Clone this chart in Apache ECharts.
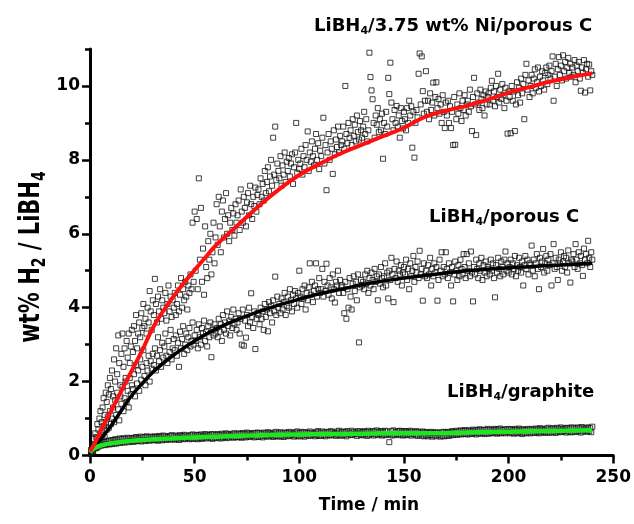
<!DOCTYPE html>
<html><head><meta charset="utf-8">
<script src="https://cdn.jsdelivr.net/npm/echarts@6/dist/echarts.min.js"></script>
<style>html,body{margin:0;padding:0;background:#fff}#c{width:634px;height:524px}</style>
</head><body><div id="c"></div>
<script>
// sampling times (min)
const timeMin = [
0.5,1,1.5,2,2.5,3,3.5,4,4.5,5,5.5,6,6.5,7,7.5,8,8.5,9,9.5,10,
10.5,11,11.5,12,12.5,13,13.5,14,14.5,15,15.5,16,16.5,17,17.5,18,18.5,19,19.5,20,
20.5,21,21.5,22,22.5,23,23.5,24,24.5,25,25.5,26,26.5,27,27.5,28,28.5,29,29.5,30,
30.5,31,31.5,32,32.5,33,33.5,34,34.5,35,35.5,36,36.5,37,37.5,38,38.5,39,39.5,40,
40.5,41,41.5,42,42.5,43,43.5,44,44.5,45,45.5,46,46.5,47,47.5,48,48.5,49,49.5,50,
50.5,51,51.5,52,52.5,53,53.5,54,54.5,55,55.5,56,56.5,57,57.5,58,58.5,59,59.5,60,
60.5,61,61.5,62,62.5,63,63.5,64,64.5,65,65.5,66,66.5,67,67.5,68,68.5,69,69.5,70,
70.5,71,71.5,72,72.5,73,73.5,74,74.5,75,75.5,76,76.5,77,77.5,78,78.5,79,79.5,80,
80.5,81,81.5,82,82.5,83,83.5,84,84.5,85,85.5,86,86.5,87,87.5,88,88.5,89,89.5,90,
90.5,91,91.5,92,92.5,93,93.5,94,94.5,95,95.5,96,96.5,97,97.5,98,98.5,99,99.5,100,
100.5,101,101.5,102,102.5,103,103.5,104,104.5,105,105.5,106,106.5,107,107.5,108,108.5,109,109.5,110,
110.5,111,111.5,112,112.5,113,113.5,114,114.5,115,115.5,116,116.5,117,117.5,118,118.5,119,119.5,120,
120.5,121,121.5,122,122.5,123,123.5,124,124.5,125,125.5,126,126.5,127,127.5,128,128.5,129,129.5,130,
130.5,131,131.5,132,132.5,133,133.5,134,134.5,135,135.5,136,136.5,137,137.5,138,138.5,139,139.5,140,
140.5,141,141.5,142,142.5,143,143.5,144,144.5,145,145.5,146,146.5,147,147.5,148,148.5,149,149.5,150,
150.5,151,151.5,152,152.5,153,153.5,154,154.5,155,155.5,156,156.5,157,157.5,158,158.5,159,159.5,160,
160.5,161,161.5,162,162.5,163,163.5,164,164.5,165,165.5,166,166.5,167,167.5,168,168.5,169,169.5,170,
170.5,171,171.5,172,172.5,173,173.5,174,174.5,175,175.5,176,176.5,177,177.5,178,178.5,179,179.5,180,
180.5,181,181.5,182,182.5,183,183.5,184,184.5,185,185.5,186,186.5,187,187.5,188,188.5,189,189.5,190,
190.5,191,191.5,192,192.5,193,193.5,194,194.5,195,195.5,196,196.5,197,197.5,198,198.5,199,199.5,200,
200.5,201,201.5,202,202.5,203,203.5,204,204.5,205,205.5,206,206.5,207,207.5,208,208.5,209,209.5,210,
210.5,211,211.5,212,212.5,213,213.5,214,214.5,215,215.5,216,216.5,217,217.5,218,218.5,219,219.5,220,
220.5,221,221.5,222,222.5,223,223.5,224,224.5,225,225.5,226,226.5,227,227.5,228,228.5,229,229.5,230,
230.5,231,231.5,232,232.5,233,233.5,234,234.5,235,235.5,236,236.5,237,237.5,238,238.5,239,239.5,240
];
// LiBH4 / 3.75 wt% Ni / porous C  (wt% H2)
const niPorousC = [
0.15,0.3,0.22,0.45,0.6,0.5,0.85,0.7,1.0,1.2,0.9,1.3,1.55,1.1,1.7,1.45,1.9,1.65,2.1,1.8,
2.3,1.6,2.6,2.0,2.9,2.2,3.25,2.5,1.9,2.75,3.3,2.4,2.9,2.1,3.1,2.65,3.3,2.5,2.95,3.4,
2.8,3.5,3.1,3.8,2.9,3.3,3.6,3.2,3.85,3.45,4.1,3.5,3.7,3.3,4.0,3.6,4.45,3.9,3.4,4.2,
3.8,4.78,4.1,3.6,4.3,3.9,4.5,3.7,4.2,4.0,3.85,4.4,3.65,4.1,4.6,3.9,4.3,3.75,4.2,4.0,
4.4,3.8,4.1,4.6,3.9,4.35,4.8,4.0,4.5,4.2,4.7,4.3,3.95,4.6,4.4,4.9,4.5,6.3,4.7,6.6,
5.0,6.4,4.5,7.5,5.3,6.7,4.7,5.6,4.35,6.2,5.1,4.8,5.8,5.3,6.0,4.9,5.5,6.3,5.2,5.9,
6.8,5.7,7.0,6.2,5.5,6.6,6.9,5.9,6.4,7.1,6.0,6.5,5.8,6.3,6.7,6.1,6.55,5.95,6.8,6.3,
6.5,6.9,6.1,7.2,6.6,6.3,7.0,6.7,6.2,6.85,7.1,6.5,7.3,6.8,6.4,7.0,6.75,7.25,6.6,7.05,
7.2,6.8,7.5,7.0,7.35,6.9,7.7,7.1,7.4,7.8,7.15,7.55,8.0,7.3,8.6,7.6,8.9,7.45,7.9,7.7,
7.5,8.1,7.3,7.85,7.6,8.2,7.4,7.95,7.7,8.05,7.55,7.9,8.15,7.35,7.8,8.2,9.0,7.65,8.0,7.75,
7.9,8.3,7.6,8.1,7.8,8.4,8.0,8.77,7.7,8.2,7.95,8.5,8.1,7.85,8.3,8.7,8.0,8.45,7.75,8.25,
8.1,8.6,9.14,7.9,8.4,7.18,8.2,8.7,8.0,8.5,8.3,7.62,8.8,8.15,8.55,8.35,8.9,8.2,8.65,8.4,
8.5,8.9,8.3,10.0,8.7,8.45,9.0,8.6,8.8,8.4,9.1,8.65,8.95,8.5,9.2,8.75,8.55,9.05,8.8,8.6,
8.9,9.3,8.7,9.1,8.5,8.8,10.9,10.24,9.88,9.64,9.0,8.6,9.2,8.95,9.4,8.75,9.1,8.8,9.25,8.03,
9.0,8.7,9.3,8.9,10.22,9.78,10.63,9.55,9.1,8.8,9.35,9.0,9.46,8.9,9.2,8.6,9.4,9.05,8.85,9.3,
9.1,8.8,9.4,9.0,9.6,9.2,9.45,8.33,9.3,8.06,9.0,9.35,9.15,10.33,10.88,9.5,10.8,9.86,9.25,9.6,
10.4,9.3,9.6,9.1,9.8,9.35,9.55,10.09,9.2,9.7,10.1,9.4,9.65,9.25,9.5,9.0,9.75,9.3,8.86,9.55,
9.2,9.6,9.0,9.45,8.86,9.3,8.4,9.7,8.41,9.1,9.5,9.25,9.8,9.4,9.05,9.6,9.35,9.75,9.2,9.5,
9.6,9.3,9.9,9.45,8.78,9.7,10.22,9.5,8.67,9.8,9.55,9.35,9.9,9.65,9.4,9.75,9.2,9.85,9.5,9.7,
9.8,9.5,9.95,10.14,9.6,9.85,9.45,10.0,9.7,10.33,9.55,9.9,9.65,10.05,9.75,9.4,9.95,9.6,8.71,9.85,
9.7,8.72,10.0,9.6,9.85,8.78,9.5,10.1,9.75,9.95,9.55,10.2,9.8,10.05,9.1,10.3,10.6,9.9,10.15,9.7,
10.0,10.3,9.8,10.2,10.45,9.95,10.1,10.5,9.85,10.25,10.0,10.4,10.15,9.9,10.35,10.5,10.05,10.3,10.55,10.2,
10.4,10.8,9.6,10.25,10.6,10.0,10.45,10.78,10.3,10.55,10.15,10.83,10.4,10.65,10.2,10.5,10.76,10.35,10.6,10.25,
10.5,10.3,10.7,10.1,10.55,10.4,10.65,10.2,9.87,10.5,10.35,10.7,9.82,10.45,10.6,10.25,10.58,9.88,10.4,10.3
];
// LiBH4 / porous C
const porousC = [
0.08,0.15,0.1,0.25,0.3,0.2,0.45,0.35,0.5,0.4,0.65,0.55,0.8,0.5,0.9,0.7,1.05,0.75,1.2,0.85,
1.0,1.3,0.9,1.5,1.1,1.7,1.25,0.95,1.6,1.4,1.85,1.2,1.55,2.0,1.45,1.75,1.3,2.1,1.65,1.9,
1.8,2.2,1.6,2.45,1.95,2.3,1.75,2.6,2.05,2.4,2.85,2.15,1.9,2.5,2.3,2.7,2.0,2.55,2.35,2.75,
2.45,2.9,2.3,2.7,3.2,2.55,2.85,2.4,3.05,2.65,2.95,3.3,2.7,2.5,3.1,2.8,3.4,2.6,2.9,3.15,
2.85,3.25,2.7,3.05,2.4,3.35,2.9,3.15,3.5,2.75,3.0,3.3,2.85,3.2,3.45,2.95,3.1,3.6,3.0,3.25,
3.1,3.4,2.9,3.55,3.2,3.0,3.45,3.3,3.65,3.1,3.35,2.95,3.5,3.2,3.6,2.66,3.4,3.25,3.55,3.3,
3.45,3.2,3.7,3.35,3.55,3.1,3.8,3.4,3.6,3.3,3.9,3.5,3.65,3.25,3.75,3.45,3.95,3.55,3.7,3.4,
3.6,3.85,3.3,3.7,3.0,3.95,2.97,3.65,3.19,3.8,3.5,4.0,3.6,4.39,3.75,3.45,3.9,2.88,3.7,3.85,
3.8,3.55,4.0,3.7,3.9,3.4,4.1,3.75,3.95,3.36,4.15,3.85,4.05,3.6,4.2,3.9,4.84,3.8,4.3,4.0,
4.1,3.85,4.25,3.95,4.15,4.4,3.8,4.05,4.3,4.0,4.5,4.2,3.9,4.35,4.1,4.45,4.25,4.0,4.4,5.0,
4.3,4.1,4.5,4.25,4.6,3.95,4.4,4.2,4.55,5.2,4.35,4.7,4.15,4.45,4.6,5.2,4.3,4.5,4.8,4.4,
4.5,5.05,4.3,4.7,4.45,5.19,4.6,4.35,4.8,4.55,4.25,4.9,4.5,4.14,4.7,4.6,5.0,4.4,4.75,4.55,
4.6,4.4,3.85,4.7,3.7,4.5,4.0,4.8,4.3,3.95,4.65,4.85,4.45,4.7,4.2,4.9,3.06,4.55,4.75,4.6,
4.7,4.5,4.9,4.65,5.0,4.4,4.8,4.6,4.95,4.75,4.5,5.05,4.7,4.85,4.2,4.9,4.65,5.1,4.8,4.55,
4.85,5.2,4.6,4.95,4.25,5.0,4.75,5.35,4.9,4.15,5.05,4.8,5.25,4.7,5.0,4.9,5.15,4.6,4.95,5.1,
4.9,5.3,4.75,5.05,4.5,5.2,4.85,5.0,5.4,4.7,5.1,4.95,5.25,4.8,5.54,4.9,5.05,4.19,5.2,4.85,
5.0,4.8,5.15,4.9,5.35,4.6,5.05,4.85,5.2,4.95,5.1,4.19,4.75,5.3,5.0,5.5,4.85,5.1,4.9,5.5,
5.05,4.8,5.2,4.95,4.6,5.1,4.17,4.9,5.25,5.0,4.75,5.15,4.85,5.3,5.05,4.9,5.45,5.1,4.8,5.45,
5.0,5.2,4.85,5.52,4.95,4.17,5.1,4.9,5.3,5.05,4.8,5.2,5.0,5.35,4.75,5.15,4.95,5.25,4.85,5.1,
5.05,4.9,5.3,5.0,5.2,4.8,4.28,5.15,4.95,5.35,5.05,4.85,5.25,5.1,4.9,5.3,5.52,5.0,5.2,4.95,
5.1,5.3,4.9,5.2,5.05,5.4,4.85,5.15,5.0,5.35,5.1,4.95,5.25,4.6,5.15,5.4,5.05,5.3,4.9,5.2,
5.15,5.68,5.0,5.3,4.85,5.2,5.45,5.05,4.5,5.35,5.1,5.25,5.59,4.95,5.2,5.4,5.0,5.3,5.15,5.45,
4.6,5.2,5.72,5.05,5.35,5.1,4.75,5.3,5.2,5.5,5.0,5.25,5.4,5.1,5.35,4.95,5.55,5.2,4.68,5.3,
5.25,5.45,5.1,5.72,5.3,5.05,5.5,5.2,5.4,5.15,4.86,5.6,5.3,5.45,5.2,5.81,5.35,5.1,5.5,5.3
];
// LiBH4 / graphite
const graphite = [
0.08,0.16,0.12,0.24,0.2,0.3,0.22,0.32,0.25,0.35,0.27,0.37,0.29,0.36,0.28,0.39,0.31,0.4,0.3,0.41,
0.31,0.42,0.33,0.44,0.32,0.43,0.35,0.46,0.34,0.44,0.36,0.47,0.35,0.45,0.38,0.48,0.36,0.46,0.39,0.47,
0.37,0.48,0.38,0.5,0.39,0.47,0.4,0.51,0.38,0.49,0.41,0.5,0.39,0.52,0.42,0.49,0.4,0.51,0.43,0.5,
0.41,0.52,0.42,0.5,0.4,0.53,0.43,0.51,0.41,0.54,0.44,0.52,0.42,0.5,0.45,0.53,0.43,0.55,0.44,0.52,
0.43,0.54,0.45,0.52,0.42,0.55,0.46,0.53,0.44,0.56,0.45,0.54,0.47,0.52,0.44,0.55,0.46,0.57,0.45,0.54,
0.46,0.56,0.44,0.55,0.47,0.57,0.45,0.54,0.48,0.58,0.46,0.56,0.49,0.55,0.47,0.58,0.45,0.57,0.48,0.56,
0.47,0.58,0.49,0.56,0.46,0.59,0.48,0.57,0.5,0.6,0.47,0.58,0.49,0.56,0.51,0.59,0.48,0.6,0.5,0.57,
0.49,0.6,0.5,0.58,0.48,0.61,0.51,0.59,0.49,0.62,0.52,0.6,0.5,0.58,0.53,0.61,0.49,0.6,0.51,0.62,
0.5,0.61,0.52,0.59,0.49,0.62,0.53,0.6,0.51,0.63,0.52,0.61,0.54,0.59,0.5,0.62,0.53,0.64,0.52,0.6,
0.51,0.63,0.53,0.6,0.5,0.62,0.54,0.61,0.52,0.64,0.53,0.62,0.55,0.6,0.51,0.63,0.54,0.65,0.52,0.61,
0.52,0.64,0.54,0.62,0.51,0.63,0.55,0.61,0.53,0.65,0.54,0.62,0.56,0.6,0.52,0.64,0.55,0.66,0.53,0.62,
0.53,0.65,0.55,0.62,0.52,0.64,0.56,0.63,0.54,0.66,0.55,0.63,0.57,0.61,0.53,0.65,0.56,0.67,0.54,0.63,
0.54,0.65,0.56,0.63,0.52,0.66,0.57,0.62,0.55,0.67,0.56,0.64,0.58,0.62,0.53,0.66,0.57,0.65,0.55,0.63,
0.55,0.66,0.57,0.64,0.53,0.67,0.56,0.63,0.58,0.66,0.54,0.65,0.57,0.68,0.55,0.64,0.58,0.66,0.54,0.65,
0.56,0.67,0.55,0.65,0.58,0.36,0.57,0.66,0.54,0.68,0.56,0.64,0.58,0.66,0.55,0.67,0.57,0.65,0.54,0.66,
0.56,0.66,0.55,0.64,0.57,0.67,0.54,0.65,0.58,0.63,0.55,0.66,0.53,0.64,0.57,0.62,0.54,0.65,0.52,0.63,
0.54,0.63,0.52,0.62,0.55,0.64,0.51,0.61,0.54,0.63,0.52,0.62,0.55,0.6,0.51,0.63,0.53,0.64,0.52,0.62,
0.54,0.64,0.53,0.63,0.56,0.66,0.55,0.64,0.57,0.67,0.56,0.65,0.58,0.68,0.57,0.66,0.59,0.69,0.58,0.67,
0.57,0.68,0.59,0.67,0.58,0.7,0.6,0.68,0.57,0.69,0.6,0.71,0.59,0.68,0.61,0.7,0.58,0.69,0.6,0.72,
0.59,0.7,0.61,0.69,0.6,0.72,0.62,0.7,0.59,0.71,0.61,0.73,0.6,0.69,0.62,0.71,0.6,0.7,0.63,0.72,
0.6,0.71,0.62,0.69,0.59,0.72,0.61,0.7,0.6,0.73,0.62,0.7,0.58,0.71,0.61,0.69,0.6,0.72,0.62,0.7,
0.6,0.72,0.62,0.7,0.61,0.73,0.63,0.71,0.6,0.74,0.62,0.72,0.64,0.7,0.61,0.73,0.63,0.75,0.62,0.71,
0.62,0.74,0.64,0.72,0.61,0.75,0.65,0.73,0.63,0.76,0.64,0.72,0.66,0.74,0.62,0.75,0.65,0.73,0.63,0.76,
0.63,0.75,0.65,0.73,0.64,0.76,0.66,0.74,0.62,0.77,0.65,0.73,0.67,0.75,0.64,0.76,0.66,0.74,0.63,0.78
];
// fitted curves
const fitTime = [0,2,5,10,15,20,25,30,35,40,45,50,55,60,70,80,90,100,110,120,130,140,150,160,170,180,190,200,210,220,230,240];
const fitNi = [0.12,0.3,0.65,1.2,1.75,2.3,2.85,3.45,3.91,4.31,4.68,5.02,5.35,5.68,6.2,6.72,7.19,7.59,7.9,8.18,8.41,8.64,8.87,9.16,9.33,9.46,9.63,9.82,9.97,10.12,10.24,10.34];
const fitPorous = [0.08,0.2,0.43,0.8,1.22,1.63,1.95,2.25,2.5,2.72,2.92,3.1,3.27,3.42,3.67,3.88,4.07,4.23,4.38,4.5,4.62,4.72,4.8,4.87,4.94,5.0,5.04,5.08,5.11,5.14,5.17,5.2];
const fitGraphite = [0.08,0.19,0.27,0.33,0.37,0.4,0.42,0.44,0.455,0.47,0.48,0.49,0.5,0.51,0.53,0.545,0.56,0.57,0.58,0.585,0.59,0.6,0.6,0.6,0.605,0.62,0.635,0.645,0.655,0.665,0.675,0.685];
// axis ticks
const xMajor = [0,50,100,150,200,250];
const yMajor = [0,2,4,6,8,10];
const yMinor = [1,3,5,7,9,11];

const FONT = 'DejaVu Sans';
const pts = (vals) => timeMin.map((t, i) => [t, vals[i]]);
const fit = (vals) => fitTime.map((t, i) => [t, vals[i]]);

const chart = echarts.init(document.getElementById('c'), null, {renderer: 'canvas'});
const tickStyle = {color: '#000', width: 2.5};
const scatterStyle = {color: 'rgba(255,255,255,0)', borderColor: '#111', borderWidth: 1};
const subRich = (mainSize, mainLH, subSize, padTop) => ({
  m: {fontFamily: FONT, fontWeight: 'bold', fontSize: mainSize, lineHeight: mainLH, fill: '#000'},
  s: {fontFamily: FONT, fontWeight: 'bold', fontSize: subSize, lineHeight: subSize, padding: [padTop, 0, 0, 0], verticalAlign: 'bottom', fill: '#000'}
});

chart.setOption({
  animation: false,
  backgroundColor: '#fff',
  grid: {left: 90, right: 16.7, top: 49, bottom: 68.5},
  xAxis: [{
    type: 'value', min: 0, max: 250, interval: 50,
    axisLine: {show: true, onZero: false, lineStyle: {color: '#000', width: 3}},
    axisTick: {show: true, inside: false, length: 8, lineStyle: tickStyle},
    minorTick: {show: true, splitNumber: 2, length: 5, lineStyle: tickStyle},
    axisLabel: {margin: 14, color: '#000', fontFamily: FONT, fontWeight: 'bold', fontSize: 17, customValues: xMajor},
    splitLine: {show: false}, minorSplitLine: {show: false}
  }],
  yAxis: [{
    type: 'value', min: 0, max: 11, position: 'left',
    axisLine: {show: true, onZero: false, lineStyle: {color: '#000', width: 3}},
    axisTick: {show: true, inside: false, length: 8, lineStyle: tickStyle, customValues: yMajor},
    axisLabel: {margin: 10, color: '#000', fontFamily: FONT, fontWeight: 'bold', fontSize: 17, customValues: yMajor},
    splitLine: {show: false}
  }, {
    type: 'value', min: 0, max: 11, position: 'left',
    axisLine: {show: false},
    axisTick: {show: true, inside: false, length: 5, lineStyle: tickStyle, customValues: yMinor},
    axisLabel: {show: false},
    splitLine: {show: false}
  }],
  series: [
    {type: 'scatter', name: 'LiBH4/3.75 wt% Ni/porous C', data: pts(niPorousC), symbol: 'rect', symbolSize: 5, itemStyle: scatterStyle, silent: true, z: 1},
    {type: 'scatter', name: 'LiBH4/porous C', data: pts(porousC), symbol: 'rect', symbolSize: 5, itemStyle: scatterStyle, silent: true, z: 1},
    {type: 'scatter', name: 'LiBH4/graphite', data: pts(graphite), symbol: 'rect', symbolSize: 5, itemStyle: scatterStyle, silent: true, z: 1},
    {type: 'line', data: fit(fitPorous), showSymbol: false, smooth: 0.5, lineStyle: {color: '#000', width: 3.5}, silent: true, zlevel: 1, z: 5},
    {type: 'line', data: fit(fitGraphite), showSymbol: false, smooth: 0.5, lineStyle: {color: '#1ee61e', width: 4.5}, silent: true, zlevel: 1, z: 5},
    {type: 'line', data: fit(fitNi), showSymbol: false, smooth: 0.5, lineStyle: {color: '#ff1010', width: 4}, silent: true, zlevel: 1, z: 6}
  ],
  graphic: [
    {type: 'text', x: 314, y: 26, z: 10, style: {text: '{m|LiBH}{s|4}{m|/3.75 wt% Ni/porous C}', rich: subRich(18, 22, 11, 20), align: 'left', verticalAlign: 'middle'}},
    {type: 'text', x: 429, y: 217, z: 10, style: {text: '{m|LiBH}{s|4}{m|/porous C}', rich: subRich(18, 22, 11, 20), align: 'left', verticalAlign: 'middle'}},
    {type: 'text', x: 447, y: 392, z: 10, style: {text: '{m|LiBH}{s|4}{m|/graphite}', rich: subRich(18, 22, 11, 20), align: 'left', verticalAlign: 'middle'}},
    {type: 'text', x: 369, y: 506, z: 10, style: {text: 'Time / min', fontFamily: FONT, fontWeight: 'bold', fontSize: 17, fill: '#000', align: 'center', verticalAlign: 'middle'}},
    {type: 'text', x: 32, y: 257, rotation: Math.PI / 2, scaleY: 1.35, z: 10, style: {text: '{m|wt% H}{s|2}{m| / LiBH}{s|4}', rich: subRich(21, 26, 14, 23), align: 'center', verticalAlign: 'middle'}}
  ]
});
</script>
</body></html>
